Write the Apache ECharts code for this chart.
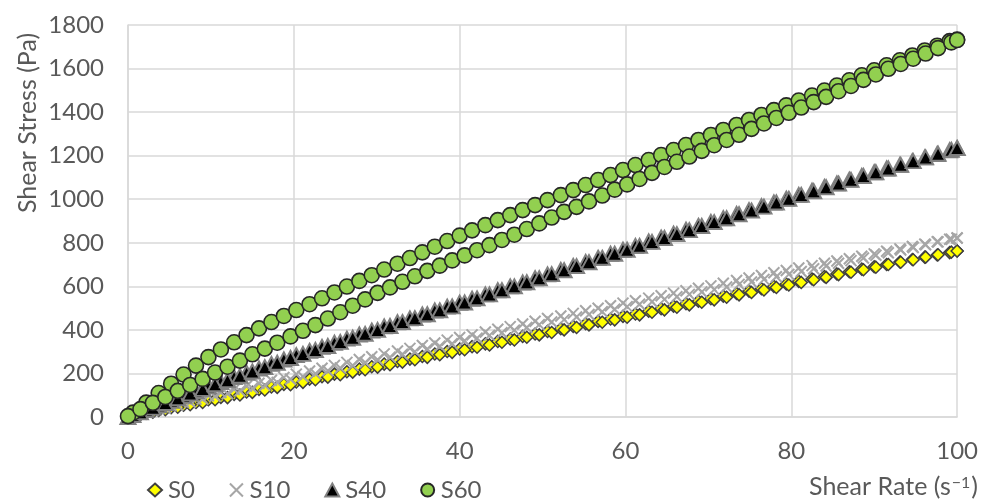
<!DOCTYPE html>
<html>
<head>
<meta charset="utf-8">
<script src="https://cdn.jsdelivr.net/npm/echarts@6/dist/echarts.min.js"></script>
<style>
  html, body { margin: 0; padding: 0; background: #ffffff; }
  #chart { width: 981px; height: 499px; }
</style>
</head>
<body>
<div id="chart"></div>
<script>
// Shear rates (s^-1) logged on the up ramp and on the down ramp
const rateUp = [0.6, 2.2, 3.7, 5.2, 6.7, 8.2, 9.7, 11.2, 12.8, 14.3, 15.8, 17.3, 18.8, 20.3, 21.9, 23.4, 24.9, 26.4, 27.9, 29.4, 30.9, 32.5, 34.0, 35.5, 37.0, 38.5, 40.0, 41.5, 43.1, 44.6, 46.1, 47.6, 49.1, 50.6, 52.2, 53.7, 55.2, 56.7, 58.2, 59.7, 61.2, 62.8, 64.3, 65.8, 67.3, 68.8, 70.3, 71.8, 73.4, 74.9, 76.4, 77.9, 79.4, 80.9, 82.5, 84.0, 85.5, 87.0, 88.5, 90.0, 91.5, 93.1, 94.6, 96.1, 97.6, 99.1, 100];
const rateDown = [0, 1.5, 3.0, 4.5, 6.0, 7.5, 9.0, 10.5, 12.0, 13.5, 15.0, 16.5, 18.0, 19.6, 21.1, 22.6, 24.1, 25.6, 27.1, 28.6, 30.1, 31.6, 33.1, 34.6, 36.1, 37.6, 39.1, 40.6, 42.1, 43.6, 45.1, 46.6, 48.1, 49.6, 51.1, 52.6, 54.1, 55.6, 57.2, 58.7, 60.2, 61.7, 63.2, 64.7, 66.2, 67.7, 69.2, 70.7, 72.2, 73.7, 75.2, 76.7, 78.2, 79.7, 81.2, 82.7, 84.2, 85.7, 87.2, 88.7, 90.2, 91.7, 93.2, 94.7, 96.2, 97.7, 99.3, 100];

// Shear stress (Pa) for each sample
const s0Up = [5, 18, 30, 43, 54, 67, 79, 90, 104, 115, 127, 138, 150, 161, 174, 185, 197, 208, 220, 231, 243, 255, 266, 278, 289, 301, 312, 323, 336, 347, 358, 370, 381, 393, 405, 416, 428, 439, 450, 462, 473, 486, 497, 509, 520, 532, 543, 555, 567, 578, 589, 600, 611, 623, 634, 645, 657, 667, 679, 690, 700, 712, 723, 734, 744, 755, 762];
const s0Down = [0, 11, 22, 33, 45, 56, 67, 79, 89, 101, 113, 124, 136, 148, 159, 171, 183, 194, 206, 217, 229, 240, 252, 263, 274, 286, 297, 309, 320, 331, 343, 354, 366, 377, 388, 400, 411, 423, 435, 446, 458, 469, 481, 492, 504, 515, 527, 538, 550, 561, 572, 583, 595, 606, 618, 630, 641, 654, 665, 676, 688, 700, 711, 722, 734, 745, 757, 762];

const s10Up = [6, 22, 37, 52, 67, 82, 97, 112, 127, 142, 155, 169, 182, 197, 211, 224, 237, 251, 264, 277, 290, 303, 315, 328, 340, 353, 365, 377, 390, 403, 415, 427, 440, 452, 464, 476, 488, 499, 511, 523, 534, 546, 557, 569, 580, 591, 602, 614, 627, 638, 650, 662, 673, 684, 695, 706, 716, 727, 738, 749, 761, 772, 783, 794, 805, 816, 822];
const s10Down = [0, 14, 28, 41, 54, 68, 82, 95, 107, 120, 132, 146, 159, 173, 186, 199, 212, 225, 237, 250, 263, 275, 288, 300, 313, 325, 337, 350, 362, 375, 387, 399, 411, 424, 436, 447, 459, 471, 483, 495, 507, 518, 529, 540, 552, 563, 574, 585, 597, 609, 620, 632, 644, 655, 668, 681, 693, 706, 718, 730, 743, 754, 767, 778, 791, 804, 816, 822];

const s40Up = [9, 32, 54, 75, 97, 119, 141, 161, 183, 203, 223, 244, 264, 284, 304, 322, 341, 360, 379, 397, 416, 435, 453, 471, 489, 507, 525, 543, 563, 582, 600, 618, 637, 655, 675, 694, 712, 731, 750, 768, 786, 806, 824, 842, 860, 878, 896, 913, 932, 950, 968, 985, 1003, 1020, 1039, 1056, 1073, 1090, 1107, 1124, 1141, 1158, 1175, 1192, 1208, 1225, 1235];
const s40Down = [0, 22, 43, 64, 86, 108, 129, 150, 169, 189, 209, 229, 249, 271, 290, 308, 326, 345, 364, 382, 400, 418, 436, 454, 472, 490, 508, 526, 545, 563, 582, 600, 619, 637, 656, 674, 693, 711, 731, 750, 768, 786, 804, 822, 840, 858, 877, 895, 913, 931, 948, 966, 985, 1002, 1020, 1037, 1055, 1072, 1089, 1107, 1124, 1141, 1158, 1175, 1192, 1209, 1227, 1235];

const s60Up = [20, 66, 110, 153, 195, 236, 275, 310, 343, 376, 407, 436, 464, 491, 518, 545, 572, 599, 625, 651, 677, 704, 730, 756, 782, 808, 833, 857, 881, 904, 927, 950, 973, 996, 1019, 1042, 1065, 1088, 1111, 1134, 1157, 1180, 1203, 1226, 1249, 1272, 1295, 1318, 1341, 1364, 1387, 1409, 1431, 1453, 1476, 1499, 1522, 1546, 1569, 1592, 1615, 1638, 1660, 1683, 1705, 1726, 1733];
const s60Down = [4, 36, 65, 92, 120, 147, 175, 204, 231, 259, 288, 314, 341, 370, 396, 422, 452, 481, 511, 540, 570, 595, 621, 646, 671, 695, 719, 742, 766, 789, 813, 837, 863, 889, 916, 942, 965, 990, 1017, 1044, 1068, 1093, 1121, 1148, 1172, 1196, 1222, 1248, 1272, 1296, 1323, 1348, 1373, 1397, 1421, 1446, 1470, 1496, 1520, 1548, 1573, 1599, 1621, 1645, 1669, 1694, 1720, 1731];

const seriesNames = ['S0', 'S10', 'S40', 'S60'];

// Axis ranges
const xRange = { min: 0, max: 100, step: 20 };
const yRange = { min: 0, max: 1800, step: 200 };

// Up ramp followed by down ramp as [rate, stress] pairs
function loop(up, down) {
  const pts = rateUp.map((r, i) => [r, up[i]]);
  return pts.concat(rateDown.map((r, i) => [r, down[i]]));
}

const FONT = 'Lato, "Open Sans", "Noto Sans", sans-serif';
const TEXT = '#595959';
const GRID = '#d9d9d9';
const CROSS = 'path://M0,0L10,10M10,0L0,10';
const plain = v => String(v);

const chart = echarts.init(document.getElementById('chart'), null, { renderer: 'canvas' });

chart.setOption({
  animation: false,
  backgroundColor: '#ffffff',
  grid: { left: 128, right: 20, top: 25, bottom: 82, containLabel: false },
  xAxis: {
    type: 'value',
    min: xRange.min, max: xRange.max, interval: xRange.step,
    axisLine: { show: true, lineStyle: { color: GRID, width: 1.5 } },
    axisTick: { show: false },
    splitLine: { show: true, lineStyle: { color: GRID, width: 1.5 } },
    axisLabel: { color: TEXT, fontSize: 24, fontFamily: FONT, margin: 22, formatter: plain }
  },
  yAxis: {
    type: 'value',
    min: yRange.min, max: yRange.max, interval: yRange.step,
    axisLine: { show: true, lineStyle: { color: GRID, width: 1.5 } },
    axisTick: { show: false },
    splitLine: { show: true, lineStyle: { color: GRID, width: 1.5 } },
    axisLabel: { color: TEXT, fontSize: 24, fontFamily: FONT, margin: 24, formatter: plain }
  },
  legend: {
    left: 142, top: 473,
    itemWidth: 14, itemHeight: 13, itemGap: 34,
    textStyle: { color: TEXT, fontSize: 24, fontFamily: FONT, padding: [0, 0, 0, 1] },
    data: seriesNames
  },
  graphic: [
    {
      type: 'text', x: 28, y: 123, rotation: Math.PI / 2,
      style: {
        text: 'Shear Stress (Pa)', fill: TEXT, font: '25px ' + FONT,
        align: 'center', verticalAlign: 'middle'
      }
    },
    {
      type: 'text', x: 978, y: 487,
      style: {
        text: '{a|Shear Rate (s}{b|\u22121}{a|)}',
        align: 'right', verticalAlign: 'middle',
        rich: {
          a: { fill: TEXT, fontSize: 25, fontFamily: FONT },
          b: { fill: TEXT, fontSize: 16, fontFamily: FONT, verticalAlign: 'top', padding: [0, 1, 9, 1] }
        }
      }
    }
  ],
  series: [
    {
      name: 'S0', type: 'scatter', data: loop(s0Up, s0Down),
      symbol: 'diamond', symbolSize: 12,
      itemStyle: { color: '#ffff00', borderColor: '#404040', borderWidth: 1.5, opacity: 1 }
    },
    {
      name: 'S10', type: 'scatter', data: loop(s10Up, s10Down),
      symbol: CROSS, symbolSize: 11,
      itemStyle: { color: 'rgba(0,0,0,0)', borderColor: '#a6a6a6', borderWidth: 2, opacity: 1 }
    },
    {
      name: 'S40', type: 'scatter', data: loop(s40Up, s40Down),
      symbol: 'triangle', symbolSize: [15, 14],
      itemStyle: { color: '#000000', borderColor: '#808080', borderWidth: 2, opacity: 1 }
    },
    {
      name: 'S60', type: 'scatter', data: loop(s60Up, s60Down),
      symbol: 'circle', symbolSize: 15,
      itemStyle: { color: '#92d050', borderColor: '#262626', borderWidth: 1.6, opacity: 1 }
    }
  ]
});
</script>
</body>
</html>
